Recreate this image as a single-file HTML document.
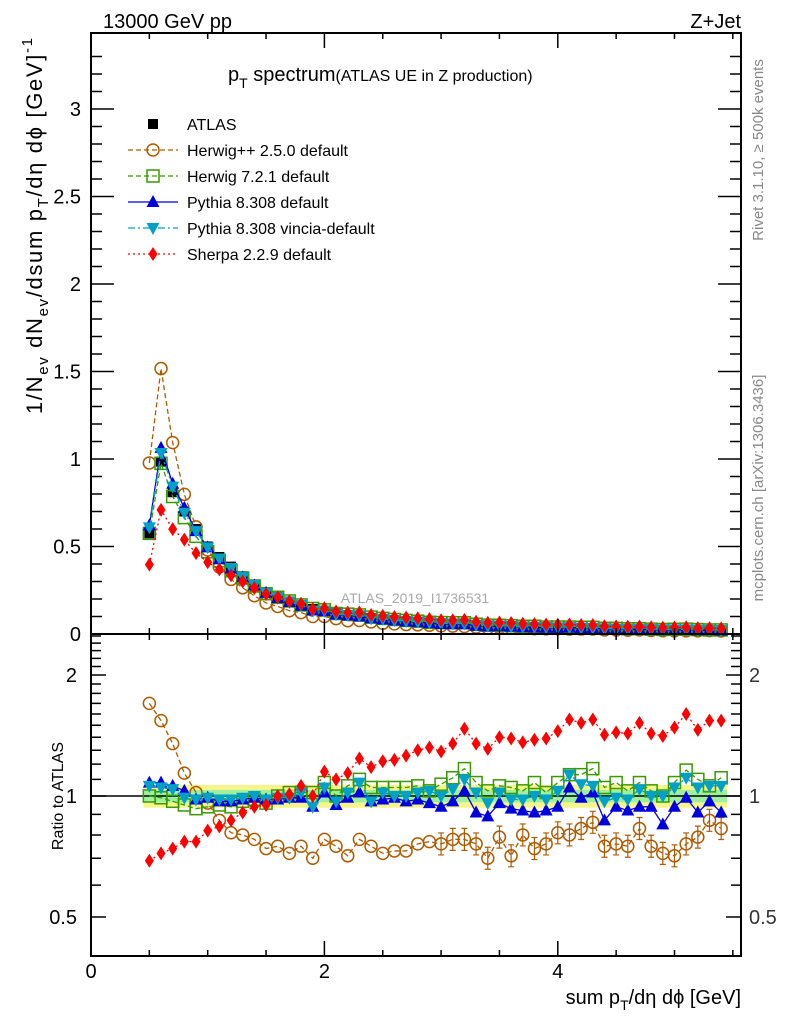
<!DOCTYPE html>
<html><head><meta charset="utf-8"><style>
body{margin:0;background:#fff;}
svg{display:block;font-family:"Liberation Sans",sans-serif;}
</style></head><body>
<svg id="chart" width="786" height="1024" viewBox="0 0 786 1024" xmlns="http://www.w3.org/2000/svg">
<g id="bands"></g>
<g id="marks"></g>
<g id="axes"></g>
<text x="103" y="28" font-size="20">13000 GeV pp</text>
<text x="741" y="28" font-size="20" text-anchor="end">Z+Jet</text>
<text x="228" y="81" font-size="20">p<tspan dy="7" font-size="14">T</tspan><tspan dy="-7"> spectrum</tspan><tspan font-size="16">(ATLAS UE in Z production)</tspan></text>
<text x="415" y="603" font-size="14" fill="#aaa" text-anchor="middle">ATLAS_2019_I1736531</text>
<text transform="translate(763,150) rotate(-90)" font-size="15" fill="#888" text-anchor="middle">Rivet 3.1.10, ≥ 500k events</text>
<text transform="translate(763,488) rotate(-90)" font-size="15" fill="#888" text-anchor="middle">mcplots.cern.ch [arXiv:1306.3436]</text>
<text transform="translate(42,414) rotate(-90)" font-size="22" textLength="376" lengthAdjust="spacing">1/N<tspan dy="6" font-size="15">ev</tspan><tspan dy="-6"> dN</tspan><tspan dy="6" font-size="15">ev</tspan><tspan dy="-6">/dsum p</tspan><tspan dy="6" font-size="15">T</tspan><tspan dy="-6">/dη dϕ  [GeV]</tspan><tspan dy="-10" font-size="15">-1</tspan></text>
<text transform="translate(63,796) rotate(-90)" font-size="16" text-anchor="middle">Ratio to ATLAS</text>
<text x="741" y="1004" font-size="20" text-anchor="end">sum p<tspan dy="6" font-size="14">T</tspan><tspan dy="-6">/dη dϕ [GeV]</tspan></text>
<g id="legend"></g>
</svg>
<script>
const xVals=[0.5,0.6,0.7,0.8,0.9,1.0,1.1,1.2,1.3,1.4,1.5,1.6,1.7,1.8,1.9,2.0,2.1,2.2,2.3,2.4,2.5,2.6,2.7,2.8,2.9,3.0,3.1,3.2,3.3,3.4,3.5,3.6,3.7,3.8,3.9,4.0,4.1,4.2,4.3,4.4,4.5,4.6,4.7,4.8,4.9,5.0,5.1,5.2,5.3,5.4];
const atlasVals=[0.575,0.985,0.81,0.70,0.60,0.50,0.44,0.385,0.33,0.28,0.24,0.21,0.185,0.163,0.143,0.128,0.117,0.107,0.099,0.092,0.085,0.079,0.074,0.069,0.065,0.061,0.058,0.055,0.052,0.049,0.047,0.045,0.043,0.041,0.039,0.037,0.035,0.034,0.033,0.031,0.030,0.029,0.028,0.027,0.026,0.025,0.024,0.023,0.022,0.021];
const herwigppRatio=[1.70,1.54,1.35,1.14,1.02,0.96,0.87,0.81,0.80,0.78,0.74,0.75,0.72,0.75,0.70,0.78,0.75,0.71,0.78,0.75,0.72,0.73,0.73,0.76,0.77,0.76,0.78,0.78,0.76,0.70,0.79,0.71,0.80,0.74,0.76,0.81,0.80,0.83,0.86,0.75,0.76,0.75,0.83,0.75,0.72,0.71,0.76,0.79,0.87,0.83];
const herwig7Ratio=[1.0,0.99,0.97,0.95,0.93,0.94,0.95,0.94,0.97,0.98,0.96,1.0,1.02,1.02,1.02,1.08,1.0,1.06,1.10,1.05,1.05,1.05,1.05,1.06,1.03,1.07,1.11,1.17,1.08,1.03,1.06,1.05,1.03,1.08,1.02,1.08,1.13,1.13,1.17,1.05,1.08,1.03,1.08,1.03,1.0,1.08,1.16,1.10,1.06,1.11];
const pythiaRatio=[1.08,1.08,1.06,1.03,0.98,0.99,0.97,0.97,0.98,0.99,0.98,0.98,0.99,0.99,0.94,1.02,0.95,0.99,1.02,0.97,0.98,0.99,0.97,0.98,0.96,0.94,0.97,1.03,0.91,0.89,0.96,0.93,0.92,0.91,0.92,0.94,1.05,0.99,1.02,0.87,0.94,0.92,0.94,0.94,0.85,0.94,0.99,0.91,0.97,0.91];
const vinciaRatio=[1.06,1.05,1.04,0.99,0.98,0.99,0.98,0.98,0.99,1.0,0.98,0.99,0.99,1.02,0.94,1.05,0.97,1.02,1.08,0.97,1.02,1.0,1.0,1.02,1.03,1.0,1.04,1.10,1.02,0.96,1.02,0.98,0.98,1.0,0.98,1.03,1.13,1.07,1.06,0.97,0.99,0.98,1.04,1.0,1.0,1.05,1.11,1.05,1.06,1.06];
const sherpaRatio=[0.69,0.72,0.74,0.77,0.77,0.82,0.84,0.87,0.91,0.94,0.95,1.0,1.01,1.06,1.0,1.15,1.10,1.14,1.24,1.18,1.22,1.23,1.26,1.30,1.32,1.29,1.35,1.47,1.35,1.31,1.40,1.39,1.36,1.38,1.39,1.45,1.55,1.52,1.55,1.42,1.44,1.43,1.52,1.43,1.41,1.48,1.60,1.46,1.54,1.54];
const mainYTicks=[0,0.5,1,1.5,2,2.5,3];
const mainYLabels=["0","0.5","1","1.5","2","2.5","3"];
const ratioTicks=[0.5,1,2];
const ratioLabels=["0.5","1","2"];
const xTicks=[0,2,4];
const xLabels=["0","2","4"];

const L=91,R=741,MT=33,MB=634,RB=956;
const X=v=>L+v*(650/5.57);
const Y=v=>MB-v*175;
const RY=v=>796-Math.log10(v)*402;
const NS="http://www.w3.org/2000/svg";
function mk(tag,attrs,parent){const e=document.createElementNS(NS,tag);for(const k in attrs)e.setAttribute(k,attrs[k]);parent.appendChild(e);return e;}
const bands=document.getElementById('bands'),marks=document.getElementById('marks'),axes=document.getElementById('axes'),legend=document.getElementById('legend');

const dx=0.05;
{
 let top=[],bot=[],gt=[],gbt=[];
 xVals.forEach((x,i)=>{const e=0.065,g=0.035;
  top.push(X(x-dx)+','+RY(1+e),X(x+dx)+','+RY(1+e));bot.unshift(X(x+dx)+','+RY(1-e),X(x-dx)+','+RY(1-e));
  gt.push(X(x-dx)+','+RY(1+g),X(x+dx)+','+RY(1+g));gbt.unshift(X(x+dx)+','+RY(1-g),X(x-dx)+','+RY(1-g));});
 const yband=mk('polygon',{points:top.concat(bot).join(' '),fill:'#f5f58a'},bands);
 
 
 const gband=mk('polygon',{points:gt.concat(gbt).join(' '),fill:'#9ef09e'},bands);
 
 
}
const one=mk('line',{x1:L,x2:R,y1:RY(1),y2:RY(1),stroke:'#000','stroke-width':1.5},bands);



function marker(type,x,y,color,g){
 let e;
 if(type==='sq') e=mk('rect',{x:x-5,y:y-5,width:10,height:10,fill:'#000'},g);
 else if(type==='circ') e=mk('circle',{cx:x,cy:y,r:6,fill:'none',stroke:color,'stroke-width':1.5},g);
 else if(type==='osq') e=mk('rect',{x:x-6,y:y-6,width:12,height:12,fill:'none',stroke:color,'stroke-width':1.5},g);
 else if(type==='tri') e=mk('polygon',{points:`${x},${y-7} ${x-6.5},${y+5} ${x+6.5},${y+5}`,fill:color},g);
 else if(type==='dtri') e=mk('polygon',{points:`${x},${y+7} ${x-6.5},${y-5} ${x+6.5},${y-5}`,fill:color},g);
 else if(type==='dia') e=mk('polygon',{points:`${x},${y-7} ${x-4.5},${y} ${x},${y+7} ${x+4.5},${y}`,fill:color},g);
 return e;
}
const series=[
 {name:'herwigpp',label:'Herwig++ 2.5.0 default',ratio:herwigppRatio,color:'#b05a00',type:'circ',dash:'5,3'},
 {name:'herwig7',label:'Herwig 7.2.1 default',ratio:herwig7Ratio,color:'#3a9a00',type:'osq',dash:'5,3'},
 {name:'pythia',label:'Pythia 8.308 default',ratio:pythiaRatio,color:'#0000dd',type:'tri',dash:''},
 {name:'vincia',label:'Pythia 8.308 vincia-default',ratio:vinciaRatio,color:'#00a0c8',type:'dtri',dash:'7,3,2,3'},
 {name:'sherpa',label:'Sherpa 2.2.9 default',ratio:sherpaRatio,color:'#ff0000',type:'dia',dash:'2,3'}
];
const ga=mk('g',{},marks);


atlasVals.forEach((v,i)=>{const m=marker('sq',X(xVals[i]),Y(v),'#000',ga);
 
 });
series.forEach(s=>{
 const g=mk('g',{},marks);
 
 
 const mp=xVals.map((x,i)=>X(x)+','+Y(atlasVals[i]*s.ratio[i])).join(' ');
 const rp=xVals.map((x,i)=>X(x)+','+RY(s.ratio[i])).join(' ');
 const l1=mk('polyline',{points:mp,fill:'none',stroke:s.color,'stroke-width':1.3,'stroke-dasharray':s.dash},g);
 
 
 const l2=mk('polyline',{points:rp,fill:'none',stroke:s.color,'stroke-width':1.3,'stroke-dasharray':s.dash},g);
 
 
 xVals.forEach((x,i)=>{
  const m1=marker(s.type,X(x),Y(atlasVals[i]*s.ratio[i]),s.color,g);
  
  
  if(s.name==='herwigpp'&&x>2.95){const yy=RY(s.ratio[i]);
   const eb=mk('path',{d:`M${X(x)},${yy-11}V${yy+11}M${X(x)-3},${yy-11}H${X(x)+3}M${X(x)-3},${yy+11}H${X(x)+3}`,stroke:s.color,'stroke-width':1.2},g);
   
   }
  const m2=marker(s.type,X(x),RY(s.ratio[i]),s.color,g);
  
  
 });
});
const f1=mk('rect',{x:L,y:MT,width:R-L,height:MB-MT,fill:'none',stroke:'#000','stroke-width':2},axes);


const f2=mk('rect',{x:L,y:MB,width:R-L,height:RB-MB,fill:'none',stroke:'#000','stroke-width':2},axes);


let d='';
for(let k=0;k<=33;k++){const v=k*0.1,y=Y(v);if(y<MT)break;const len=(k%5===0)?23:11;d+=`M${L},${y}h${len}M${R},${y}h${-len}`;}
for(let v=0.4;v<=2.55;v+=0.1){const vv=Math.round(v*10)/10;const y=RY(vv);if(y<MB||y>RB)continue;const maj=(vv===0.5||vv===1||vv===2);const len=maj?15:10;d+=`M${L},${y}h${len}M${R},${y}h${-len}`;}
for(let k=0;k<=11;k++){const v=k*0.5,x=X(v);if(x>R)break;const len=(k%4===0)?15:6;d+=`M${x},${MB}v${-len}M${x},${MT}v${len}M${x},${RB}v${-len}M${x},${MB}v${len}`;}
const tk=mk('path',{d:d,stroke:'#000','stroke-width':1.5,fill:'none'},axes);


mainYTicks.forEach((v,i)=>{const t=mk('text',{x:L-10,y:Y(v)+7,'font-size':20,'text-anchor':'end'},axes);t.textContent=mainYLabels[i];
 
 });
ratioTicks.forEach((v,i)=>{const t=mk('text',{x:L-14,y:RY(v)+7,'font-size':20,'text-anchor':'end'},axes);t.textContent=ratioLabels[i];
 
 
 const t2=mk('text',{x:R+8,y:RY(v)+7,'font-size':20,fill:'#333'},axes);t2.textContent=ratioLabels[i];
 
 });
xTicks.forEach((v,i)=>{const t=mk('text',{x:X(v),y:978,'font-size':20,'text-anchor':'middle'},axes);t.textContent=xLabels[i];
 
 });
const lrows=[{label:'ATLAS',type:'sq',color:'#000',dash:null,name:'atlas'}].concat(series);
lrows.forEach((s,i)=>{const y=124+i*26;const g=mk('g',{},legend);
 
 
 if(s.dash!==null) mk('line',{x1:128,x2:178,y1:y,y2:y,stroke:s.color,'stroke-width':1.3,'stroke-dasharray':s.dash},g);
 marker(s.type,153,y,s.color,g);
 const t=mk('text',{x:187,y:y+6,'font-size':16},g);t.textContent=s.label;});
</script>
</body></html>
